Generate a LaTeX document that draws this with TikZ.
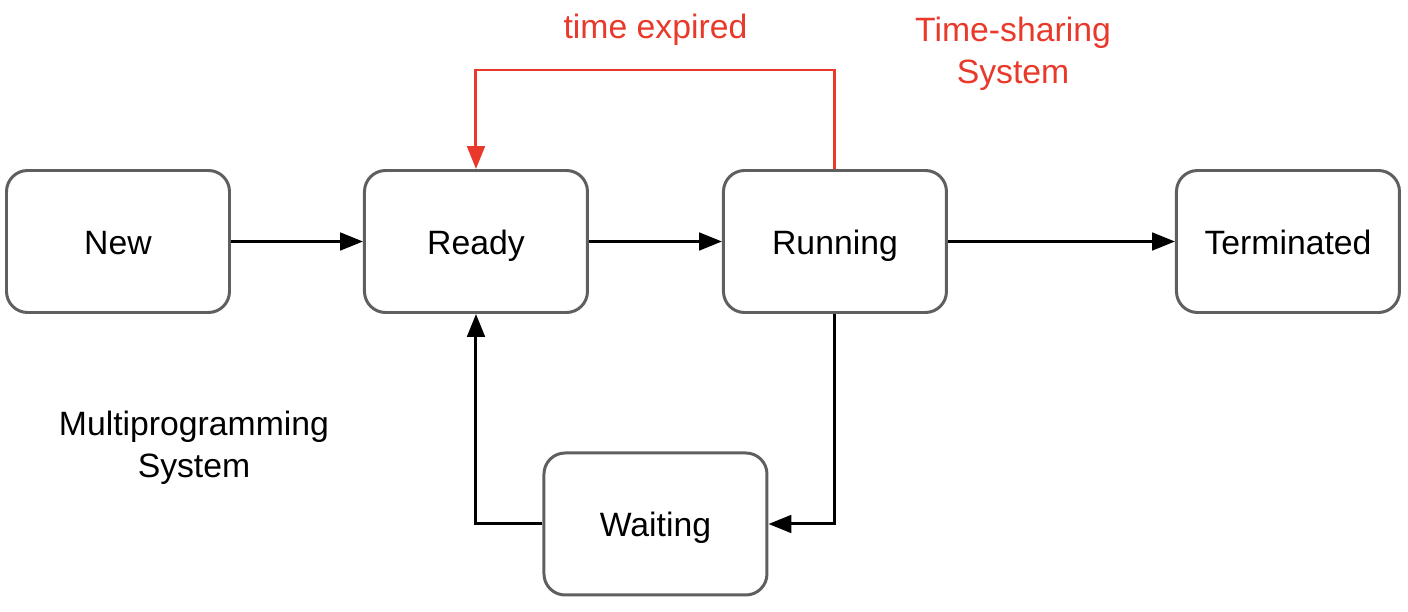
\documentclass[tikz,border=0pt]{standalone}
\usepackage{fontspec}
\setmainfont{Liberation Sans}
\usepackage{xcolor}
\usetikzlibrary{arrows.meta, positioning, calc}
\definecolor{boxgray}{HTML}{5F5F5F}
\definecolor{tsred}{HTML}{E8392B}
\tikzset{
  state/.style={rectangle, draw=boxgray, line width=0.85pt, rounded corners=6pt,
                minimum width=2.23cm, minimum height=1.42cm, align=center,
                text height=0.9em, text depth=0.18em,
                font=\fontsize{9.6}{12}\selectfont},
  note/.style={align=center, font=\fontsize{9.6}{12}\selectfont},
  arrow/.style={-{Triangle[length=6.5pt, width=5pt]}, line width=0.85pt},
  redarrow/.style={arrow, color=tsred}
}
\begin{document}
\begin{tikzpicture}[node distance=1.32cm]
  \useasboundingbox (-1.18,2.415) rectangle (12.90,-3.705);

  % States
  \node[state] (new) {New};
  \node[state, right=of new] (ready) {Ready};
  \node[state, right=1.33cm of ready] (running) {Running};
  \node[state, right=2.27cm of running] (terminated) {Terminated};
  \node[state, below=2.10cm of $(ready)!.5!(running)$] (waiting) {Waiting};

  \draw[arrow] (new) -- (ready);
  \draw[arrow] (ready) -- (running);
  \draw[arrow] (running) -- (terminated);
  \draw[arrow] (running.south) |- (waiting.east);
  \draw[arrow] (waiting.west) -| (ready.south);

  % Time-sharing
  \coordinate[above=0.99cm of running.north] (tstop);
  \draw[redarrow] (running.north) -- (tstop) -| (ready.north);
  \node[note, text=tsred] (expired) at ($(tstop)!.5!(ready.north |- tstop)+(0,0.40)$) {time expired};
  \node[note, text=tsred] (tslabel) at (8.95,1.875) {Time-sharing\\System};

  % Multiprogramming
  \node[note] (mplabel) at (0.76,-2.065) {Multiprogramming\\System};
\end{tikzpicture}
\end{document}
